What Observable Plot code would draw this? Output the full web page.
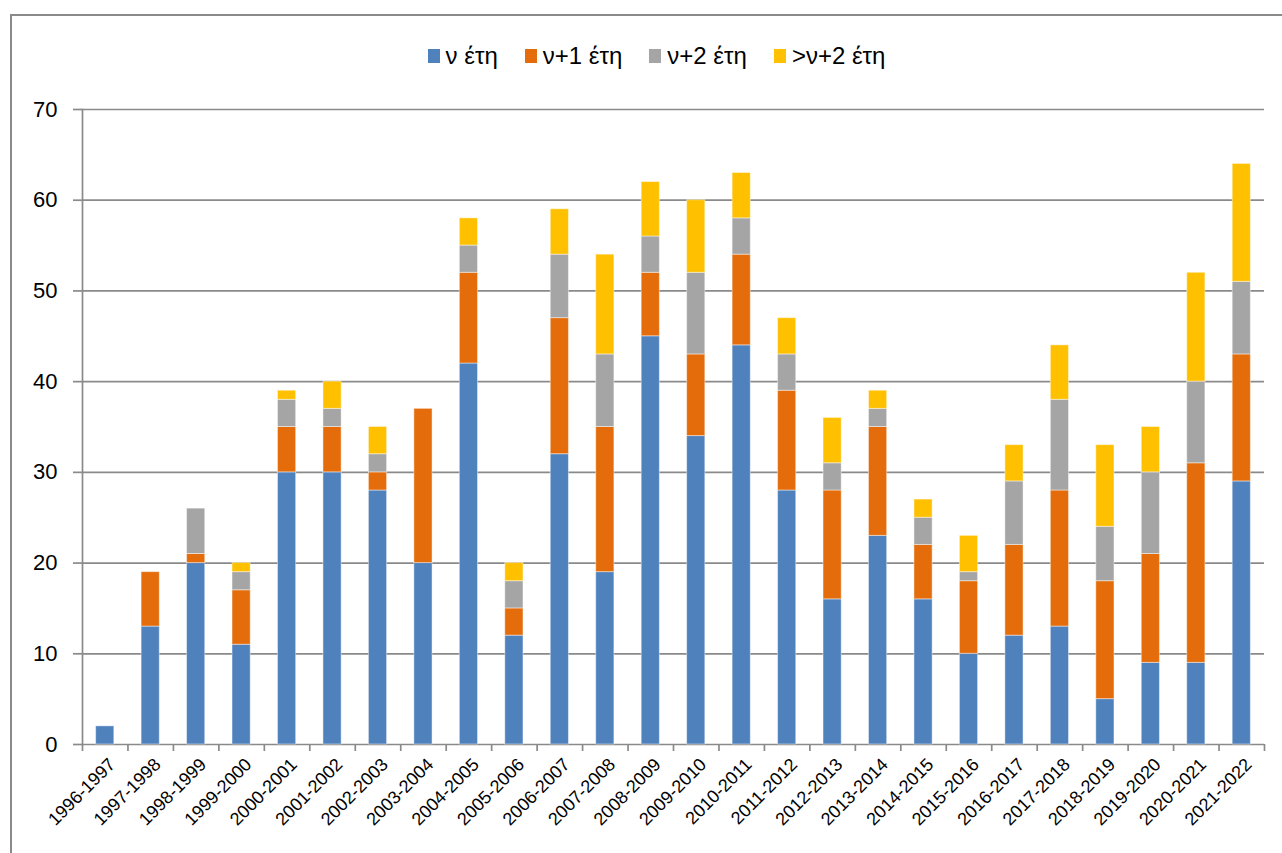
<!DOCTYPE html>
<html>
<head>
<meta charset="utf-8">
<script src="https://cdn.jsdelivr.net/npm/d3@7"></script>
<script src="https://cdn.jsdelivr.net/npm/@observablehq/plot@0.6"></script>
<style>
  html, body { margin: 0; padding: 0; background: #fff; overflow: hidden; }
  body { width: 1282px; height: 853px; position: relative; font-family: "Liberation Sans", Arial, sans-serif; }
  #frame { position: absolute; left: 10px; top: 14px; width: 1300px; height: 900px; border: 2px solid #8a8a8a; box-sizing: border-box; }
  #legend { position: absolute; left: 0; top: 42px; width: 1313px; height: 28px; display: flex; justify-content: center; align-items: center; gap: 27px; font-size: 24px; color: #000; }
  #legend .item { display: flex; align-items: center; white-space: nowrap; }
  #legend .sw { display: inline-block; width: 12px; height: 14px; margin-right: 6px; }
  #chart { position: absolute; left: 0; top: 90px; }
</style>
</head>
<body>
<div id="frame"></div>
<div id="legend"></div>
<div id="chart"></div>
<script>
// ---- data ----
const categories = ["1996-1997","1997-1998","1998-1999","1999-2000","2000-2001","2001-2002","2002-2003","2003-2004","2004-2005","2005-2006","2006-2007","2007-2008","2008-2009","2009-2010","2010-2011","2011-2012","2012-2013","2013-2014","2014-2015","2015-2016","2016-2017","2017-2018","2018-2019","2019-2020","2020-2021","2021-2022"];
const seriesNames = ["ν έτη", "ν+1 έτη", "ν+2 έτη", ">ν+2 έτη"];
const seriesColors = ["#4F81BD", "#E46C0A", "#A5A5A5", "#FFC000"];
const nYears   = [2,13,20,11,30,30,28,20,42,12,32,19,45,34,44,28,16,23,16,10,12,13,5,9,9,29];
const n1Years  = [0,6,1,6,5,5,2,17,10,3,15,16,7,9,10,11,12,12,6,8,10,15,13,12,22,14];
const n2Years  = [0,0,5,2,3,2,2,0,3,3,7,8,4,9,4,4,3,2,3,1,7,10,6,9,9,8];
const gtN2Years = [0,0,0,1,1,3,3,0,3,2,5,11,6,8,5,4,5,2,2,4,4,6,9,5,12,13];
const yTicks = [0,10,20,30,40,50,60,70];

// ---- table ----
const seriesValues = [nYears, n1Years, n2Years, gtN2Years];
const rows = categories.flatMap((c, i) =>
  seriesNames.map((s, k) => ({year: c, series: s, value: seriesValues[k][i]}))
).filter(d => d.value > 0);

// ---- legend ----
const legend = document.getElementById("legend");
seriesNames.forEach((s, k) => {
  const item = document.createElement("div");
  item.className = "item";
  const sw = document.createElement("span");
  sw.className = "sw";
  sw.style.background = seriesColors[k];
  item.appendChild(sw);
  item.appendChild(document.createTextNode(s));
  legend.appendChild(item);
});

// ---- chart ----
const W = 1282, H = 763, mT = 19, mB = 109, mL = 82, mR = 18;
const step = (W - mL - mR) / categories.length;
const pxPerUnit = (H - mT - mB) / (yTicks[yTicks.length - 1] - yTicks[0]);
const tickLen = 7 / pxPerUnit;
const gridColor = "#8a8a8a";

const chart = Plot.plot({
  width: W, height: H,
  marginTop: mT, marginBottom: mB, marginLeft: mL, marginRight: mR,
  style: {fontFamily: '"Liberation Sans", Arial, sans-serif', background: "transparent", color: "#000"},
  x: {domain: categories, paddingInner: 0.6, paddingOuter: 0.3, round: false, axis: null},
  y: {domain: [0, 70], axis: null, label: null},
  color: {domain: seriesNames, range: seriesColors},
  marks: [
    Plot.ruleY(yTicks, {stroke: gridColor, strokeWidth: 1.7}),
    Plot.axisY(yTicks, {label: null, tickSize: 9, tickPadding: 16, fontSize: 22, stroke: gridColor, strokeWidth: 1.7, fill: "#000", tickFormat: d => String(d)}),
    Plot.frame({anchor: "left", stroke: gridColor, strokeWidth: 1.7}),
    Plot.barY(rows, {x: "year", y: "value", fill: "series", order: seriesNames, stroke: "#fff", strokeOpacity: 0.45, strokeWidth: 1}),
    Plot.ruleX(categories, {x: d => d, y1: 0, y2: -tickLen, dx: step / 2, stroke: gridColor, strokeWidth: 1.7}),
    Plot.ruleX([categories[0]], {x: d => d, y1: 0, y2: -tickLen, dx: -step / 2, stroke: gridColor, strokeWidth: 1.7}),
    Plot.text(categories, {x: d => d, y: 0, text: d => d, rotate: -45, textAnchor: "end", lineAnchor: "middle", fontSize: 18, fill: "#000", dx: 7, dy: 17})
  ]
});
document.getElementById("chart").appendChild(chart);
</script>
</body>
</html>
